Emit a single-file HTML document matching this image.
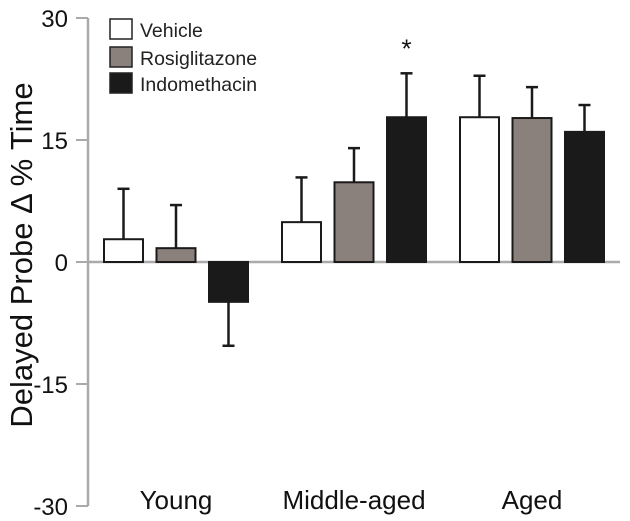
<!DOCTYPE html>
<html><head><meta charset="utf-8"><style>
body{margin:0;background:#fff;}
svg{display:block;font-family:"Liberation Sans",Arial,sans-serif;}
</style></head><body>
<svg id="chart" width="630" height="521" viewBox="0 0 630 521">
<g id="axis"></g>
<g id="bars"></g>
<text transform="translate(32,255) rotate(-90)" text-anchor="middle" font-size="31" fill="#111">Delayed Probe Δ % Time</text>
<g>
<rect x="110" y="19" width="22" height="20" fill="#fff" stroke="#222" stroke-width="1.5"/>
<text x="140" y="37" font-size="19.5" fill="#222">Vehicle</text>
<rect x="110" y="47" width="22" height="20" fill="#8a817c" stroke="#222" stroke-width="1.5"/>
<text x="140" y="65" font-size="19.5" fill="#222">Rosiglitazone</text>
<rect x="110" y="73" width="22" height="20" fill="#1a1a1a" stroke="#222" stroke-width="1.5"/>
<text x="140" y="91" font-size="19.5" fill="#222">Indomethacin</text>
</g>
</svg>
<script>
const groups = ["Young","Middle-aged","Aged"];
const series = ["Vehicle","Rosiglitazone","Indomethacin"];
const vehicle = [2.8, 4.9, 17.8];
const rosiglitazone = [1.7, 9.8, 17.7];
const indomethacin = [-4.9, 17.8, 16.0];
const errVehicle = [6.2, 5.5, 5.1];
const errRosi = [5.3, 4.2, 3.8];
const errIndo = [5.4, 5.4, 3.3];
const yTicks = [30, 15, 0, -15, -30];
const sig = [[1,2]];
const NS="http://www.w3.org/2000/svg";
const svg=document.getElementById('chart');
const ax=document.getElementById('axis'), bg=document.getElementById('bars');
function y(v){return 262 - v*(244/30);}
function gx(g){return 104 + g*178;}
function mk(t,a,p){const e=document.createElementNS(NS,t);for(const k in a)e.setAttribute(k,a[k]);(p||svg).appendChild(e);return e;}
const axLine=mk('line',{x1:88,y1:y(30),x2:88,y2:y(-30),stroke:'#aaa','stroke-width':2.5},ax);


const zl=mk('line',{x1:88,y1:y(0),x2:620,y2:y(0),stroke:'#aaa','stroke-width':2.5},ax);


yTicks.forEach(t=>{
  const l=mk('line',{x1:76,y1:y(t),x2:88,y2:y(t),stroke:'#aaa','stroke-width':2},ax);
  
  
  const tx=mk('text',{x:68,y:y(t)+9,'text-anchor':'end','font-size':24,fill:'#111'},ax);
  tx.textContent=t;
  
  
});
const vals=[vehicle,rosiglitazone,indomethacin], errs=[errVehicle,errRosi,errIndo];
const fills=['#fff','#8a817c','#1a1a1a'];
groups.forEach((g,gi)=>{
  series.forEach((s,si)=>{
    const v=vals[si][gi], e=errs[si][gi];
    const x=gx(gi)+si*52.5, w=39;
    const top=Math.min(y(v),y(0)), h=Math.abs(y(v)-y(0));
    const cx=x+w/2, ey=y(v+(v>=0?e:-e));
    const st=mk('line',{x1:cx,y1:y(v),x2:cx,y2:ey,stroke:'#1a1a1a','stroke-width':2.5},bg);
    
    
    const cp=mk('line',{x1:cx-6,y1:ey,x2:cx+6,y2:ey,stroke:'#1a1a1a','stroke-width':2.5},bg);
    
    
    const r=mk('rect',{x:x,y:top,width:w,height:h,fill:fills[si],stroke:'#1a1a1a','stroke-width':2},bg);
    
    
  });
  const lb=mk('text',{x:gx(gi)+72,y:509,'text-anchor':'middle','font-size':26,fill:'#111'});
  lb.textContent=g;
  
  
});
sig.forEach(([gi,si])=>{
  const v=vals[si][gi], e=errs[si][gi];
  const t=mk('text',{x:gx(gi)+si*52.5+19.5,y:y(v+e)-16,'text-anchor':'middle','font-size':26,fill:'#111'});
  t.textContent='*';
  
  
});
</script>
</body></html>
